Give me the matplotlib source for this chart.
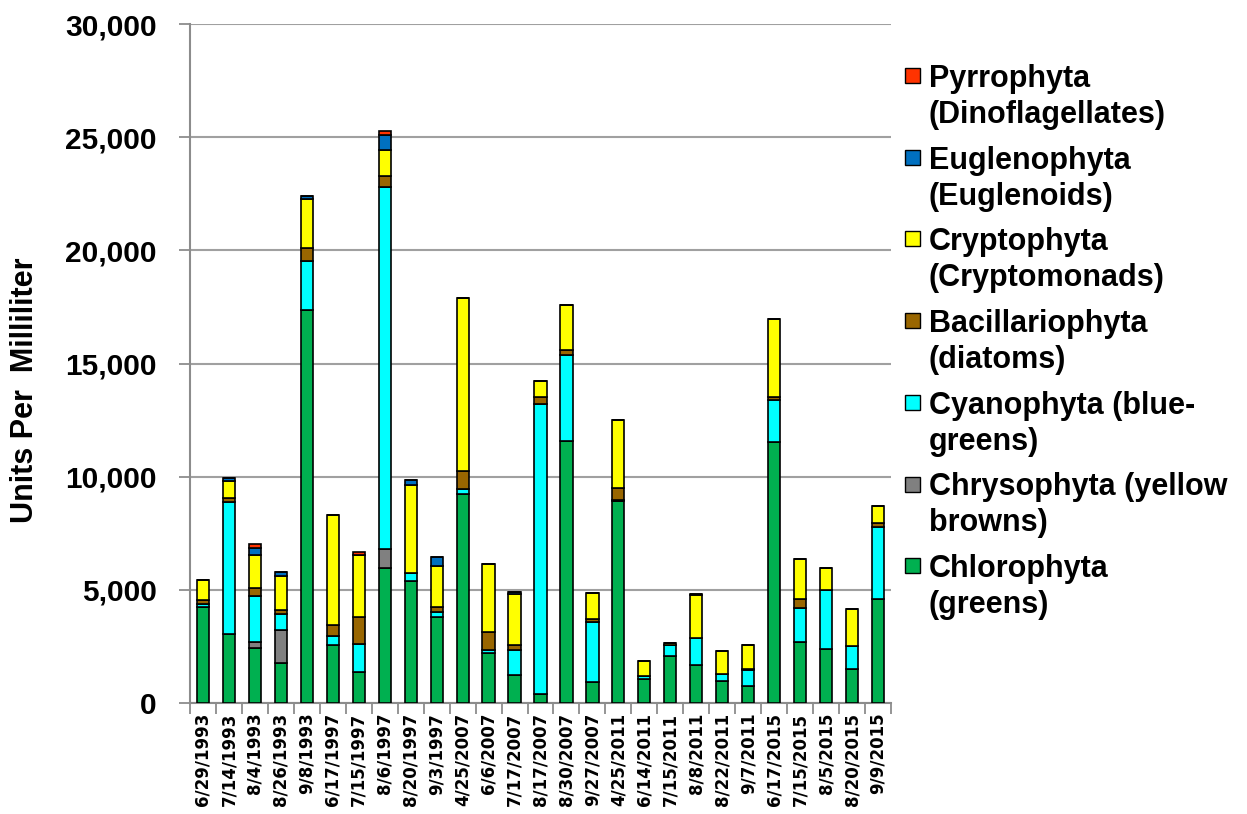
import numpy as np
import matplotlib
matplotlib.use("Agg")
import matplotlib.pyplot as plt
from matplotlib.patches import Rectangle
from matplotlib.ticker import FuncFormatter, FixedLocator

plt.rcParams['font.family'] = ['Liberation Sans', 'DejaVu Sans']
plt.rcParams['font.weight'] = 'bold'

dates = ['6/29/1993', '7/14/1993', '8/4/1993', '8/26/1993', '9/8/1993',
         '6/17/1997', '7/15/1997', '8/6/1997', '8/20/1997', '9/3/1997',
         '4/25/2007', '6/6/2007', '7/17/2007', '8/17/2007', '8/30/2007',
         '9/27/2007', '4/25/2011', '6/14/2011', '7/15/2011', '8/8/2011',
         '8/22/2011', '9/7/2011', '6/17/2015', '7/15/2015', '8/5/2015',
         '8/20/2015', '9/9/2015']

# units per milliliter, bottom of the stack first
chlorophyta = [4250, 3040, 2440, 1780, 17360, 2560, 1370, 5980, 5400, 3780,
               9220, 2190, 1250, 400, 11570, 910, 8920, 1040, 2070, 1680,
               970, 760, 11520, 2700, 2370, 1490, 4590]
chrysophyta = [0, 0, 265, 1440, 0, 0, 0, 840, 0, 0,
               0, 0, 0, 0, 0, 0, 0, 0, 0, 0,
               0, 0, 0, 0, 0, 0, 0]
cyanophyta = [120, 5820, 2010, 700, 2180, 400, 1230, 15990, 330, 250,
              230, 150, 1090, 12820, 3820, 2650, 50, 150, 490, 1200,
              290, 690, 1880, 1500, 2610, 1030, 3190]
bacillariophyta = [180, 200, 380, 200, 560, 480, 1200, 470, 0, 220,
                   820, 810, 220, 300, 220, 130, 550, 0, 0, 0,
                   0, 50, 130, 380, 0, 0, 180]
cryptophyta = [880, 760, 1430, 1510, 2160, 4850, 2720, 1135, 3900, 1800,
               7640, 2980, 2250, 700, 1990, 1190, 3000, 660, 90, 1880,
               1030, 1060, 3450, 1770, 990, 1620, 750]
euglenophyta = [0, 100, 340, 150, 150, 0, 0, 670, 220, 400,
                0, 0, 90, 0, 0, 0, 0, 0, 0, 70,
                0, 0, 0, 0, 0, 0, 0]
pyrrophyta = [0, 0, 175, 0, 0, 0, 130, 180, 0, 0,
              0, 0, 0, 0, 0, 0, 0, 0, 0, 0,
              0, 0, 0, 0, 0, 0, 0]

series = [
    (chlorophyta, '#00B050', ['Chlorophyta', '(greens)']),
    (chrysophyta, '#808080', ['Chrysophyta (yellow', 'browns)']),
    (cyanophyta, '#00FFFF', ['Cyanophyta (blue-', 'greens)']),
    (bacillariophyta, '#996600', ['Bacillariophyta', '(diatoms)']),
    (cryptophyta, '#FFFF00', ['Cryptophyta', '(Cryptomonads)']),
    (euglenophyta, '#0070C0', ['Euglenophyta', '(Euglenoids)']),
    (pyrrophyta, '#FF3300', ['Pyrrophyta', '(Dinoflagellates)']),
]

W, H = 1247, 814
fig = plt.figure(figsize=(W / 100, H / 100), dpi=100)
ax = fig.add_axes([190 / W, 1 - 703 / H, (891 - 190) / W, (703 - 24) / H])

x = np.arange(len(dates))
bottom = np.zeros(len(dates))
for vals, color, _ in series:
    vals = np.array(vals, dtype=float)
    ax.bar(x, vals, 0.47, bottom=bottom, color=color, edgecolor='black',
           linewidth=1.2, zorder=3)
    bottom += vals

ax.set_xlim(-0.5, len(dates) - 0.5)
ax.set_ylim(0, 30000)
ax.set_yticks(np.arange(0, 30001, 5000))
ax.yaxis.set_major_formatter(FuncFormatter(lambda v, p: f'{int(v):,}'))
ax.set_xticks(x)
ax.set_xticklabels(dates, rotation=90, fontsize=12, fontweight='bold',
                   family='DejaVu Sans')
ax.xaxis.set_minor_locator(FixedLocator(np.arange(-0.5, len(dates), 1.0)))
ax.tick_params(axis='x', which='major', length=0, pad=7)
ax.tick_params(axis='x', which='minor', length=8, width=1.3, color='#8C8C8C')
ax.tick_params(axis='y', length=8, width=1.3, color='#8C8C8C', labelsize=21.5, pad=16)
for lab in ax.get_yticklabels():
    lab.set_fontweight('bold')

ax.yaxis.grid(True, color='#A0A0A0', linewidth=1.5, zorder=0)
ax.set_axisbelow(True)
for side in ['top', 'right']:
    ax.spines[side].set_visible(False)
for side in ['left', 'bottom']:
    ax.spines[side].set_color('#8C8C8C')
    ax.spines[side].set_linewidth(1.5)

ax.set_ylabel('Units Per  Milliliter', fontsize=22, fontweight='bold')
ax.yaxis.set_label_coords(-150 / (891 - 190), (703 - 390) / (703 - 24))

# legend, top entry is the top of the stack
for k, (vals, color, lines) in enumerate(reversed(series)):
    base = 87 + k * 81.7
    fig.add_artist(Rectangle((905 / W, 1 - (base - 4) / H), 15 / W, 15 / H,
                             transform=fig.transFigure, facecolor=color,
                             edgecolor='black', linewidth=1.0))
    fig.text(929 / W, 1 - base / H, lines[0], fontsize=22, fontweight='bold',
             va='baseline', ha='left')
    fig.text(929 / W, 1 - (base + 36) / H, lines[1], fontsize=22,
             fontweight='bold', va='baseline', ha='left')

fig.savefig('out.png', dpi=100)
